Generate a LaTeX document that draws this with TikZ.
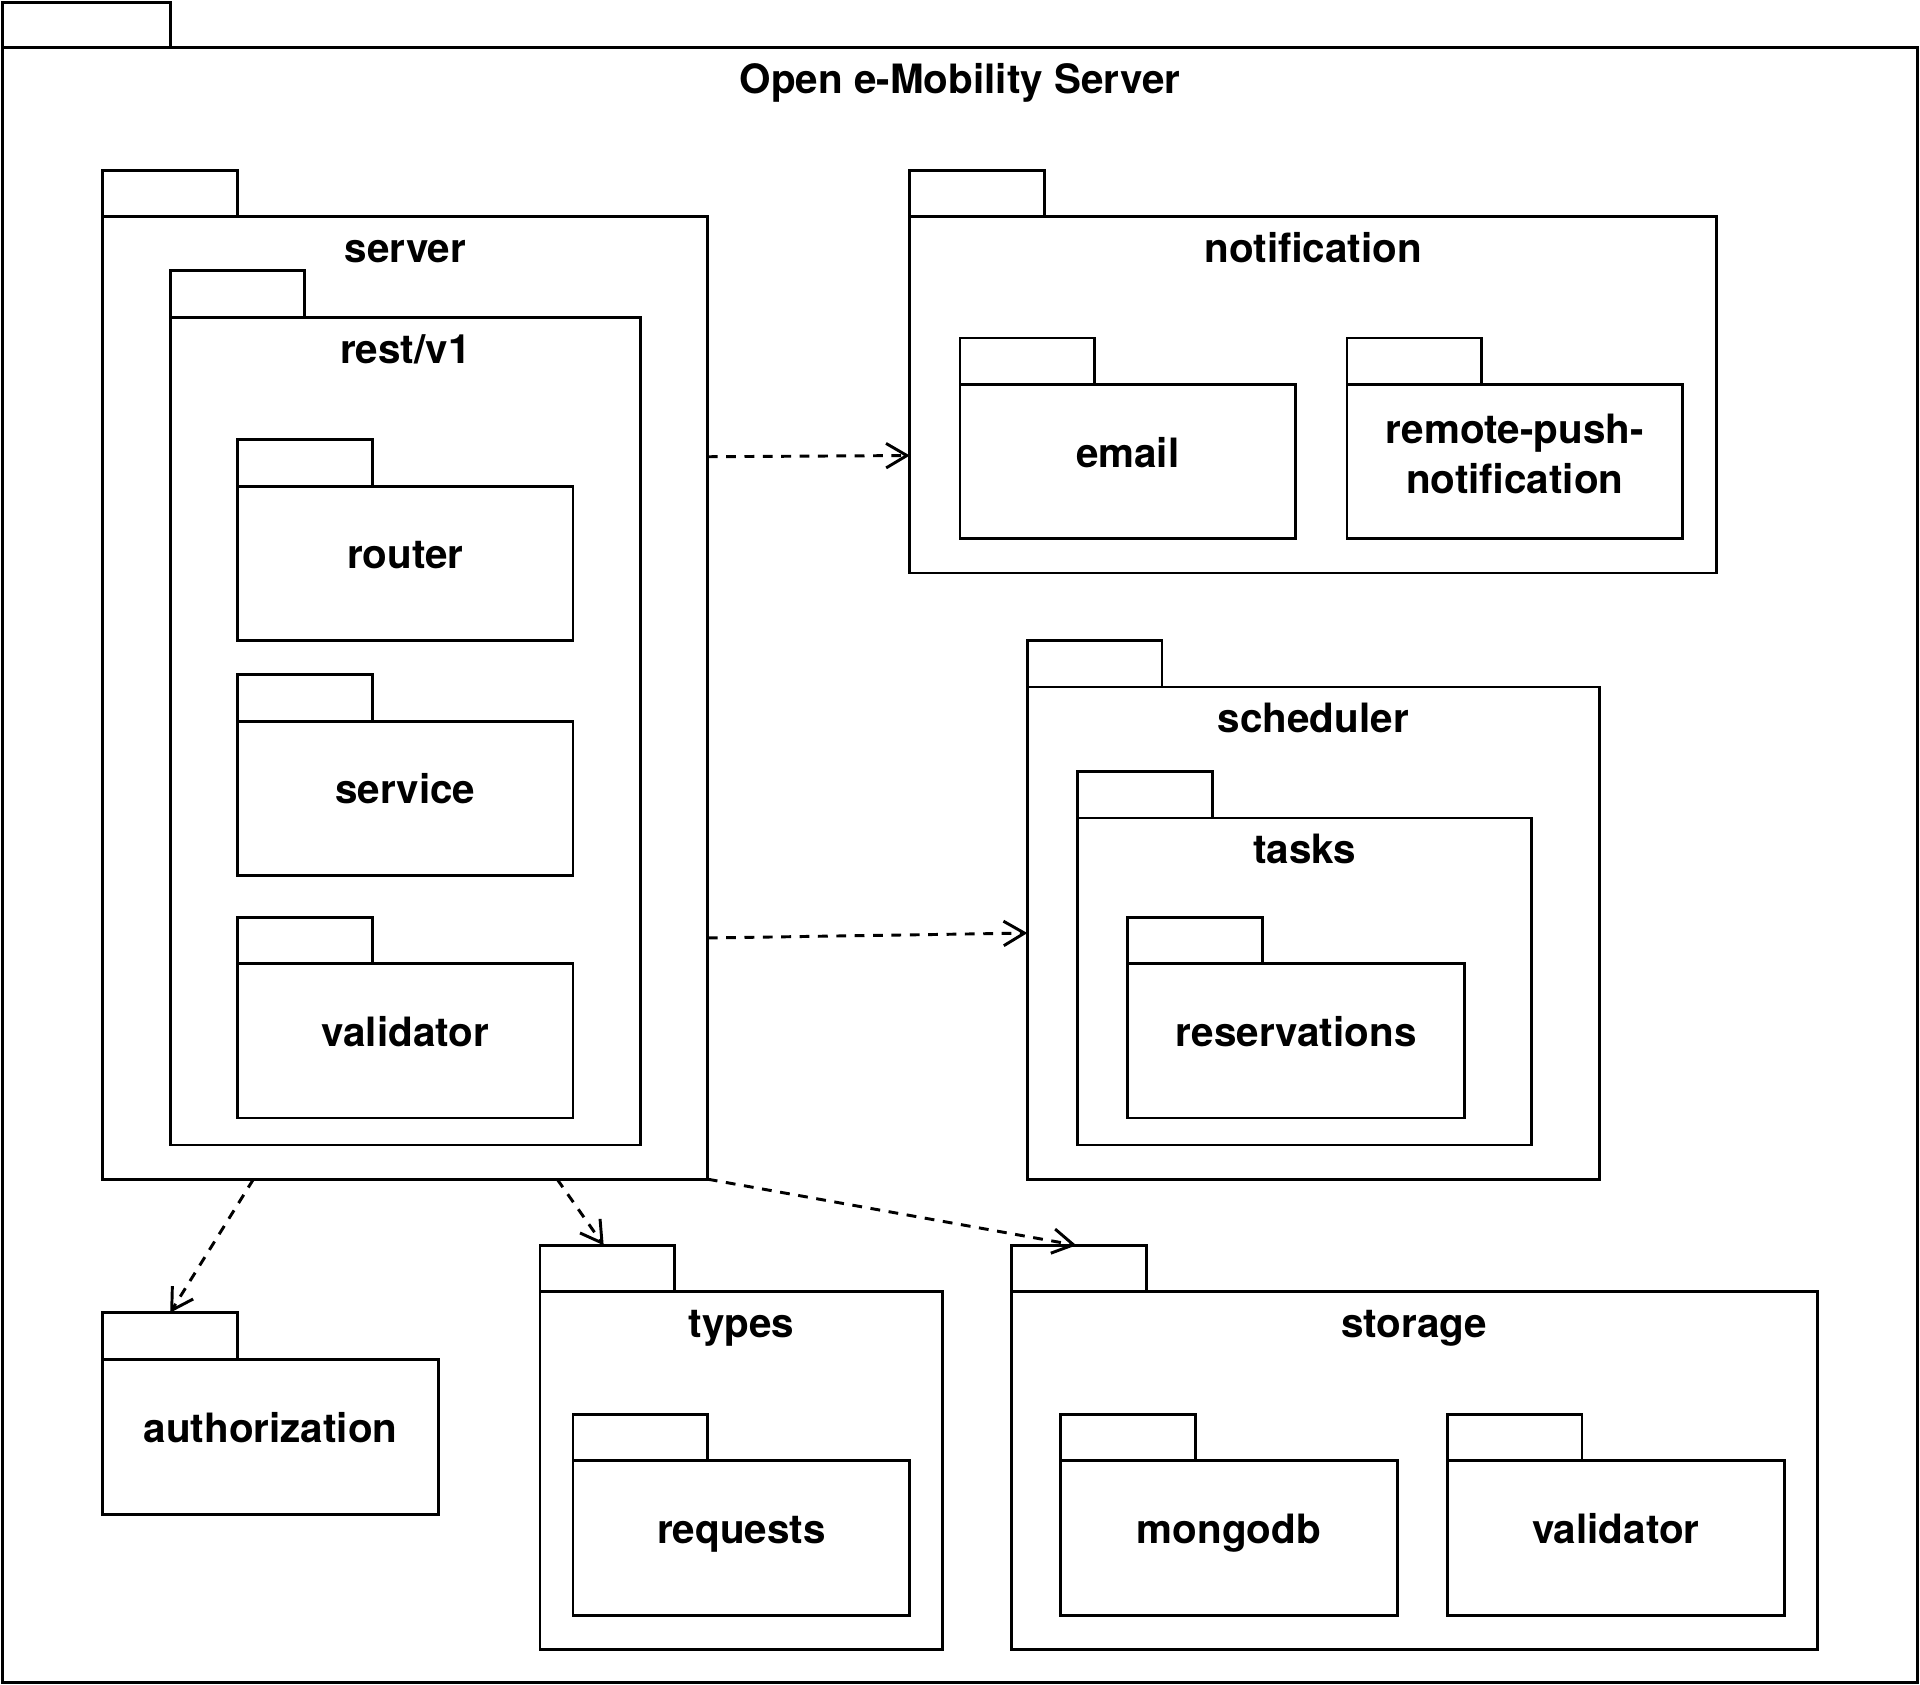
\documentclass[tikz,border=0pt]{standalone}
\usepackage{fontspec}
\setmainfont{TeX Gyre Heros}
\usetikzlibrary{arrows.meta,calc}
\tikzset{
  pkgline/.style={draw=black, line width=2.3pt, fill=white, inner sep=0pt, outer sep=0pt, rectangle},
  lbl/.style={font=\bfseries\fontsize{33}{41}\selectfont, inner sep=0pt, anchor=base, align=center},
  dep/.style={draw, line width=2.4pt, dash pattern=on 8pt off 7pt,
    -{Straight Barb[length=17pt,width=20pt,line width=2.4pt]}}
}
% #1 tab width, #2 name, #3 x1, #4 y1, #5 x2, #6 y2 (body)
\newcommand\pkg[6][110]{%
  \node[pkgline, anchor=north west, minimum width={#5-#3}, minimum height={#6-#4}] (#2) at (#3,#4) {};
  \node[pkgline, anchor=south west, minimum width={#1}, minimum height=38] (#2-tab) at (#2.north west) {};
}
\newcommand\toplbl[2]{\node[lbl] (#1-lbl) at ($(#1.north)+(0,37.5)$) {#2};}
\newcommand\ctrlbl[2]{\node[lbl] (#1-lbl) at ($(#1.center)+(0,4.5)$) {#2};}
\begin{document}
\begin{tikzpicture}[x=1pt,y=-1pt]
\useasboundingbox (0,0) rectangle (1568,1376);
\fill[white] (0,0) rectangle (1568,1376);
% outer frame
\node[pkgline, anchor=north west, minimum width=1564, minimum height=1335] (frame) at (2,39) {};
\node[pkgline, anchor=south west, minimum width=137, minimum height=37] (frame-tab) at (frame.north west) {};
\toplbl{frame}{Open e-Mobility Server}
% server
\pkg{server}{84}{177}{578}{963}
\toplbl{server}{server}
\pkg{rest}{139}{259}{523}{935}
\toplbl{rest}{rest/v1}
\pkg{router}{194}{397}{468}{523}
\ctrlbl{router}{router}
\pkg{service}{194}{589}{468}{715}
\ctrlbl{service}{service}
\pkg{validatorA}{194}{787}{468}{913}
\ctrlbl{validatorA}{validator}
% notification
\pkg{notification}{743}{177}{1402}{468}
\toplbl{notification}{notification}
\pkg{email}{784}{314}{1058}{440}
\ctrlbl{email}{email}
\pkg{rpn}{1100}{314}{1374}{440}
\node[lbl] (rpn-lbl) at ($(rpn.center)+(0,26)$) {remote-push-\\notification};
% scheduler
\pkg{scheduler}{839}{561}{1306}{963}
\toplbl{scheduler}{scheduler}
\pkg{tasks}{880}{668}{1251}{935}
\toplbl{tasks}{tasks}
\pkg{reservations}{921}{787}{1196}{913}
\ctrlbl{reservations}{reservations}
% bottom row
\pkg{authorization}{84}{1110}{358}{1237}
\ctrlbl{authorization}{authorization}
\pkg{types}{441}{1055}{770}{1347}
\toplbl{types}{types}
\pkg{requests}{468}{1193}{743}{1319}
\ctrlbl{requests}{requests}
\pkg{storage}{826}{1055}{1484}{1347}
\toplbl{storage}{storage}
\pkg{mongodb}{866}{1193}{1141}{1319}
\ctrlbl{mongodb}{mongodb}
\pkg{validatorB}{1182}{1193}{1457}{1319}
\ctrlbl{validatorB}{validator}
% dependencies
\draw[dep] ([yshift=-196pt]server.north east) -- ([yshift=-195pt]notification.north west);
\draw[dep] ([yshift=-589pt]server.north east) -- ([yshift=-201pt]scheduler.north west);
\draw[dep] ([xshift=123pt]server.south west) -- (authorization-tab.north);
\draw[dep] ([xshift=371pt]server.south west) -- ([xshift=-3pt]types-tab.north);
\draw[dep] (server.south east) -- ([xshift=-2pt]storage-tab.north);
\end{tikzpicture}
\end{document}
